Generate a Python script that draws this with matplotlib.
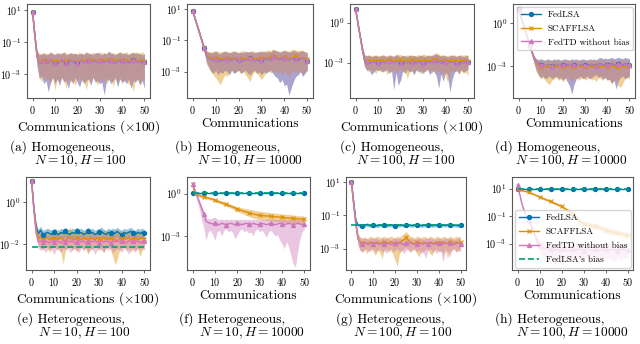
import numpy as np
import matplotlib
matplotlib.use("Agg")
import matplotlib.pyplot as plt
from matplotlib.ticker import FixedLocator, NullLocator, LogFormatterMathtext

plt.rcParams['font.family'] = 'serif'
plt.rcParams['font.serif'] = ['cmr10']
plt.rcParams['mathtext.fontset'] = 'cm'
plt.rcParams['axes.formatter.use_mathtext'] = True

# all series are log10 of the error, one value per 100 (or 1) communications
x = np.arange(51)

# ---------------- (a) homogeneous N=10 H=100
a_lsa = [0.9,
 -0.6,-1.9,-2.35,-2.3,-2.2,-2.25,-2.3,-2.15,-2.2,-2.3,
 -2.2,-2.25,-2.15,-2.2,-2.3,-2.2,-2.15,-2.25,-2.2,-2.3,
 -2.2,-2.2,-2.25,-2.15,-2.2,-2.3,-2.2,-2.15,-2.25,-2.2,
 -2.3,-2.25,-2.2,-2.15,-2.2,-2.25,-2.3,-2.2,-2.15,-2.2,
 -2.25,-2.2,-2.3,-2.2,-2.15,-2.2,-2.25,-2.2,-2.3,-2.25]
a_lsa_hi = [0.95,
 -0.4,-1.6,-1.8,-1.75,-1.7,-1.8,-1.75,-1.65,-1.75,-1.8,
 -1.7,-1.75,-1.7,-1.65,-1.8,-1.75,-1.7,-1.75,-1.7,-1.8,
 -1.75,-1.7,-1.8,-1.65,-1.7,-1.75,-1.8,-1.7,-1.65,-1.75,
 -1.8,-1.7,-1.75,-1.6,-1.7,-1.75,-1.8,-1.7,-1.65,-1.75,
 -1.7,-1.75,-1.8,-1.7,-1.65,-1.75,-1.7,-1.75,-1.8,-1.75]
a_lsa_lo = [0.85,
 -0.8,-2.5,-3.3,-3.1,-3.6,-3.4,-4.1,-3.5,-3.2,-3.6,
 -3.3,-3.7,-3.2,-3.5,-3.4,-3.9,-3.3,-3.6,-3.2,-3.5,
 -3.8,-3.3,-3.6,-3.4,-3.3,-3.7,-3.2,-3.5,-3.4,-3.6,
 -3.5,-4.3,-3.4,-3.3,-3.6,-3.4,-3.2,-3.8,-3.3,-3.5,
 -3.4,-3.6,-3.3,-3.9,-3.4,-3.5,-3.3,-3.7,-3.4,-3.9]
a_scaf = [0.9,
 -0.6,-1.85,-2.3,-2.2,-2.15,-2.2,-2.2,-2.1,-2.15,-2.2,
 -2.15,-2.2,-2.1,-2.15,-2.2,-2.1,-2.15,-2.2,-2.15,-2.25,
 -2.15,-2.1,-2.2,-2.15,-2.1,-2.2,-2.15,-2.1,-2.2,-2.15,
 -2.2,-2.1,-2.15,-2.05,-2.15,-2.2,-2.1,-2.15,-2.1,-2.15,
 -2.2,-2.1,-2.15,-2.2,-2.1,-2.15,-2.2,-2.1,-2.15,-2.2]
a_scaf_hi = [0.95,
 -0.4,-1.55,-1.7,-1.75,-1.65,-1.7,-1.75,-1.6,-1.7,-1.75,
 -1.65,-1.7,-1.75,-1.6,-1.7,-1.75,-1.65,-1.7,-1.75,-1.7,
 -1.65,-1.75,-1.7,-1.6,-1.75,-1.7,-1.65,-1.7,-1.75,-1.6,
 -1.7,-1.65,-1.75,-1.55,-1.7,-1.65,-1.75,-1.7,-1.6,-1.65,
 -1.7,-1.6,-1.75,-1.65,-1.7,-1.6,-1.65,-1.7,-1.6,-1.75]
a_scaf_lo = [0.85,
 -0.8,-2.4,-3.2,-3.5,-3.1,-3.4,-3.3,-3.6,-3.2,-4.0,
 -3.3,-3.5,-3.2,-3.4,-3.9,-3.3,-3.5,-3.4,-3.7,-3.3,
 -3.2,-3.5,-3.4,-4.0,-3.3,-3.6,-3.2,-3.4,-3.7,-3.3,
 -3.5,-3.2,-3.6,-3.4,-3.3,-3.8,-3.3,-3.5,-3.2,-3.6,
 -3.4,-3.3,-3.7,-3.5,-4.1,-3.3,-3.4,-3.6,-3.3,-3.5]
# homogeneous case: FedTD without bias coincides with FedLSA
a_td, a_td_hi, a_td_lo = a_lsa, a_lsa_hi, a_lsa_lo

# ---------------- (b) homogeneous N=10 H=10000
b_lsa = [0.9,
 0.42,-0.06,-0.54,-1.02,-1.5,-1.95,-2.1,-2.2,-2.25,-2.2,
 -2.3,-2.3,-2.25,-2.2,-2.2,-2.3,-2.25,-2.2,-2.15,-2.25,
 -2.2,-2.3,-2.25,-2.2,-2.15,-2.2,-2.3,-2.25,-2.2,-2.25,
 -2.2,-2.15,-2.2,-2.25,-2.05,-2.1,-2.15,-2.2,-2.1,-2.15,
 -2.2,-2.25,-2.15,-2.1,-2.2,-2.15,-2.2,-2.1,-2.2,-2.3]
b_lsa_hi = [0.95,
 0.5,0.05,-0.4,-0.9,-1.35,-1.7,-1.75,-1.8,-1.75,-1.7,
 -1.8,-1.85,-1.75,-1.7,-1.75,-1.8,-1.75,-1.7,-1.75,-1.8,
 -1.75,-1.8,-1.7,-1.75,-1.7,-1.75,-1.8,-1.75,-1.7,-1.75,
 -1.7,-1.75,-1.7,-1.75,-1.6,-1.65,-1.7,-1.75,-1.7,-1.65,
 -1.7,-1.75,-1.7,-1.65,-1.7,-1.75,-1.7,-1.65,-1.75,-1.8]
b_lsa_lo = [0.85,
 0.3,-0.2,-0.7,-1.15,-1.7,-2.4,-2.7,-3.0,-3.1,-2.9,
 -3.2,-3.0,-3.1,-2.9,-3.0,-3.2,-2.9,-3.1,-3.0,-2.9,
 -3.1,-3.0,-2.9,-3.1,-3.2,-3.0,-2.9,-3.1,-3.0,-3.2,
 -3.0,-3.1,-3.0,-2.9,-3.1,-3.3,-3.4,-3.7,-3.5,-3.9,
 -3.8,-4.5,-4.0,-3.6,-3.3,-3.2,-3.0,-3.3,-3.1,-2.9]
b_scaf = [0.9,
 0.42,-0.06,-0.54,-1.02,-1.5,-1.9,-2.05,-2.1,-2.15,-2.1,
 -2.15,-2.2,-2.1,-2.15,-2.1,-2.2,-2.15,-2.1,-2.15,-2.2,
 -2.1,-2.15,-2.2,-2.1,-2.15,-2.1,-2.2,-2.15,-2.1,-2.15,
 -2.1,-2.15,-2.1,-2.05,-2.0,-2.05,-2.1,-2.15,-2.1,-2.05,
 -2.1,-2.15,-2.1,-2.05,-2.0,-2.1,-2.15,-2.1,-2.15,-2.2]
b_scaf_hi = [0.95,
 0.5,0.05,-0.4,-0.9,-1.35,-1.65,-1.7,-1.75,-1.7,-1.65,
 -1.7,-1.75,-1.7,-1.65,-1.7,-1.75,-1.7,-1.65,-1.7,-1.75,
 -1.7,-1.65,-1.7,-1.75,-1.7,-1.65,-1.7,-1.75,-1.7,-1.65,
 -1.7,-1.65,-1.6,-1.65,-1.55,-1.6,-1.65,-1.7,-1.65,-1.6,
 -1.65,-1.7,-1.6,-1.55,-1.6,-1.65,-1.6,-1.65,-1.7,-1.75]
b_scaf_lo = [0.85,
 0.3,-0.2,-0.7,-1.15,-1.7,-2.5,-2.8,-3.0,-3.2,-3.4,
 -3.6,-3.85,-3.5,-3.2,-3.3,-3.0,-2.9,-3.1,-3.0,-2.9,
 -3.1,-3.0,-3.2,-3.4,-3.65,-3.2,-3.0,-3.1,-3.3,-3.5,
 -3.3,-3.0,-2.9,-3.1,-3.0,-2.9,-3.1,-3.0,-3.2,-3.0,
 -3.1,-3.3,-3.0,-2.9,-3.1,-3.0,-2.9,-3.2,-3.0,-2.9]
b_td, b_td_hi, b_td_lo = b_lsa, b_lsa_hi, b_lsa_lo

# ---------------- (c) homogeneous N=100 H=100
c_lsa = [1.0,
 0.0,-1.0,-2.0,-2.85,-2.95,-2.9,-3.0,-2.95,-2.9,-3.0,
 -2.95,-2.9,-3.0,-2.95,-2.9,-3.0,-2.95,-2.9,-2.95,-3.0,
 -2.9,-2.95,-3.0,-2.9,-2.95,-2.9,-3.0,-2.95,-2.9,-3.0,
 -2.95,-2.9,-3.0,-2.95,-2.9,-2.85,-2.95,-3.0,-2.9,-2.95,
 -3.0,-2.95,-2.9,-2.95,-3.0,-2.9,-2.95,-3.0,-2.9,-2.95]
c_lsa_hi = [1.05,
 0.1,-0.85,-1.8,-2.45,-2.5,-2.45,-2.55,-2.5,-2.45,-2.55,
 -2.5,-2.45,-2.5,-2.55,-2.45,-2.5,-2.55,-2.4,-2.5,-2.55,
 -2.45,-2.5,-2.55,-2.45,-2.5,-2.45,-2.55,-2.5,-2.45,-2.5,
 -2.55,-2.45,-2.5,-2.45,-2.4,-2.35,-2.45,-2.5,-2.45,-2.5,
 -2.55,-2.5,-2.45,-2.5,-2.55,-2.45,-2.5,-2.55,-2.5,-2.45]
c_lsa_lo = [0.95,
 -0.1,-1.2,-2.3,-3.3,-3.6,-3.5,-3.9,-3.7,-3.5,-3.6,
 -3.5,-3.7,-3.6,-3.5,-3.8,-3.6,-5.0,-3.7,-4.7,-4.3,
 -3.6,-3.8,-3.5,-3.7,-3.6,-3.9,-3.5,-3.7,-3.6,-3.8,
 -3.6,-3.5,-3.9,-3.6,-3.7,-4.0,-4.9,-3.8,-4.4,-3.7,
 -3.9,-5.2,-4.2,-3.7,-3.6,-3.8,-3.5,-3.7,-3.6,-3.5]
c_scaf = [1.0,
 0.0,-1.0,-2.0,-2.8,-2.85,-2.8,-2.9,-2.85,-2.8,-2.9,
 -2.85,-2.8,-2.85,-2.9,-2.8,-2.85,-2.9,-2.8,-2.85,-2.8,
 -2.85,-2.9,-2.8,-2.85,-2.8,-2.9,-2.85,-2.8,-2.85,-2.9,
 -2.8,-2.85,-2.8,-2.9,-2.75,-2.7,-2.8,-2.85,-2.8,-2.85,
 -2.9,-2.8,-2.85,-2.8,-2.9,-2.85,-2.8,-2.85,-2.8,-2.9]
c_scaf_hi = [1.05,
 0.1,-0.85,-1.8,-2.4,-2.45,-2.4,-2.5,-2.45,-2.4,-2.5,
 -2.45,-2.4,-2.45,-2.5,-2.4,-2.45,-2.5,-2.4,-2.35,-2.4,
 -2.45,-2.5,-2.4,-2.45,-2.4,-2.5,-2.45,-2.4,-2.45,-2.35,
 -2.4,-2.45,-2.4,-2.5,-2.3,-2.25,-2.35,-2.45,-2.4,-2.45,
 -2.5,-2.4,-2.45,-2.4,-2.5,-2.45,-2.4,-2.45,-2.4,-2.45]
c_scaf_lo = [0.95,
 -0.1,-1.2,-2.3,-3.3,-3.5,-3.7,-3.5,-3.6,-3.8,-3.5,
 -3.7,-3.6,-3.5,-3.9,-3.6,-3.7,-3.5,-3.8,-3.6,-3.5,
 -3.7,-3.6,-4.2,-3.7,-3.5,-3.8,-3.6,-3.5,-3.9,-3.6,
 -3.7,-3.5,-3.6,-3.8,-3.5,-3.7,-3.6,-3.9,-3.7,-4.0,
 -4.5,-3.8,-3.6,-3.7,-3.5,-3.9,-3.6,-3.8,-3.7,-4.0]
c_td, c_td_hi, c_td_lo = c_lsa, c_lsa_hi, c_lsa_lo

# ---------------- (d) homogeneous N=100 H=10000
d_lsa = [1.0,
 0.5,0.0,-0.5,-1.0,-1.5,-2.0,-2.45,-2.75,-2.9,-2.95,
 -2.9,-3.0,-2.95,-2.9,-3.0,-2.95,-2.9,-2.95,-3.0,-2.9,
 -2.95,-2.9,-3.0,-2.95,-2.9,-2.95,-3.0,-2.9,-2.95,-2.9,
 -3.0,-2.95,-2.9,-2.95,-3.0,-2.9,-2.85,-2.95,-2.9,-2.95,
 -2.9,-2.85,-2.95,-2.9,-2.85,-2.9,-2.95,-2.85,-2.9,-2.9]
d_lsa_hi = [1.05,
 0.55,0.05,-0.45,-0.95,-1.45,-1.9,-2.3,-2.5,-2.55,-2.5,
 -2.55,-2.6,-2.5,-2.55,-2.6,-2.5,-2.55,-2.5,-2.6,-2.55,
 -2.5,-2.55,-2.6,-2.5,-2.55,-2.5,-2.6,-2.55,-2.5,-2.55,
 -2.6,-2.5,-2.55,-2.5,-2.6,-2.45,-2.4,-2.5,-2.45,-2.5,
 -2.45,-2.4,-2.5,-2.45,-2.4,-2.45,-2.5,-2.4,-2.45,-2.5]
d_lsa_lo = [0.95,
 0.45,-0.05,-0.55,-1.05,-1.6,-2.2,-2.8,-3.3,-3.6,-3.8,
 -3.7,-3.9,-3.8,-3.7,-3.9,-3.8,-3.7,-3.9,-3.8,-4.0,
 -3.8,-4.1,-4.4,-4.95,-4.3,-3.9,-3.8,-3.7,-3.9,-3.8,
 -3.7,-3.9,-3.8,-3.7,-3.6,-3.8,-3.7,-3.9,-3.8,-4.0,
 -3.9,-4.2,-4.0,-4.6,-4.0,-3.8,-3.7,-3.9,-3.8,-3.7]
d_scaf = [1.0,
 0.5,0.0,-0.5,-1.0,-1.5,-2.0,-2.45,-2.8,-3.0,-3.05,
 -3.1,-3.05,-3.1,-3.0,-3.05,-3.1,-3.05,-3.0,-3.1,-3.05,
 -3.1,-3.05,-3.0,-3.1,-3.05,-3.1,-3.0,-3.05,-3.1,-3.05,
 -3.0,-3.05,-3.1,-3.05,-3.0,-3.05,-3.1,-3.0,-3.05,-3.1,
 -3.05,-3.0,-3.05,-3.1,-3.05,-3.0,-3.05,-3.1,-3.05,-3.0]
d_scaf_hi = [1.05,
 0.55,0.05,-0.45,-0.95,-1.45,-1.9,-2.3,-2.55,-2.6,-2.6,
 -2.65,-2.6,-2.55,-2.65,-2.6,-2.55,-2.6,-2.65,-2.6,-2.55,
 -2.6,-2.65,-2.55,-2.6,-2.65,-2.6,-2.55,-2.6,-2.65,-2.6,
 -2.55,-2.6,-2.65,-2.6,-2.55,-2.6,-2.65,-2.55,-2.6,-2.65,
 -2.6,-2.55,-2.6,-2.65,-2.6,-2.55,-2.6,-2.65,-2.6,-2.55]
d_scaf_lo = [0.95,
 0.45,-0.05,-0.55,-1.05,-1.6,-2.2,-2.8,-3.4,-3.7,-3.9,
 -3.8,-4.0,-4.2,-4.3,-4.0,-3.9,-3.8,-4.0,-3.9,-4.1,
 -3.9,-3.8,-4.0,-4.1,-3.9,-3.8,-4.0,-3.9,-3.8,-4.0,
 -3.9,-3.8,-4.0,-3.9,-4.1,-3.8,-3.9,-4.0,-3.8,-3.9,
 -4.0,-4.3,-4.0,-3.9,-4.4,-4.5,-4.2,-3.9,-3.8,-3.9]
d_td, d_td_hi, d_td_lo = d_lsa, d_lsa_hi, d_lsa_lo

# ---------------- (e) heterogeneous N=10 H=100
e_lsa = [1.0,
 -0.3,-1.2,-1.5,-1.35,-1.55,-1.5,-1.45,-1.5,-1.55,-1.45,
 -1.5,-1.55,-1.45,-1.5,-1.4,-1.5,-1.55,-1.45,-1.5,-1.4,
 -1.5,-1.45,-1.55,-1.5,-1.4,-1.5,-1.45,-1.55,-1.5,-1.45,
 -1.4,-1.5,-1.55,-1.45,-1.5,-1.45,-1.5,-1.4,-1.5,-1.55,
 -1.45,-1.5,-1.45,-1.4,-1.5,-1.55,-1.45,-1.5,-1.45,-1.5]
e_lsa_hi = [1.05,
 -0.2,-1.0,-1.3,-1.15,-1.35,-1.3,-1.25,-1.3,-1.35,-1.25,
 -1.3,-1.35,-1.25,-1.3,-1.2,-1.3,-1.35,-1.25,-1.3,-1.2,
 -1.3,-1.25,-1.35,-1.3,-1.2,-1.3,-1.25,-1.35,-1.3,-1.25,
 -1.2,-1.3,-1.35,-1.25,-1.3,-1.25,-1.3,-1.2,-1.3,-1.35,
 -1.25,-1.3,-1.25,-1.2,-1.3,-1.35,-1.25,-1.3,-1.25,-1.3]
e_lsa_lo = [0.95,
 -0.4,-1.4,-1.75,-1.6,-1.8,-1.75,-1.7,-1.75,-1.8,-1.7,
 -1.75,-1.8,-1.7,-1.75,-1.65,-1.75,-1.8,-1.7,-1.75,-1.65,
 -1.75,-1.7,-1.8,-1.75,-1.65,-1.75,-1.7,-1.8,-1.75,-1.7,
 -1.65,-1.75,-1.8,-1.7,-1.75,-1.7,-1.75,-1.65,-1.75,-1.8,
 -1.7,-1.75,-1.7,-1.65,-1.75,-1.8,-1.7,-1.75,-1.7,-1.75]
e_scaf = [1.0,
 -0.3,-1.3,-1.75,-1.7,-1.8,-1.75,-1.7,-1.8,-1.75,-1.7,
 -1.8,-1.75,-1.7,-1.8,-1.85,-1.7,-1.65,-1.75,-1.8,-1.7,
 -1.75,-1.8,-1.7,-1.75,-1.8,-1.7,-1.75,-1.8,-1.7,-1.75,
 -1.8,-1.7,-1.75,-1.8,-1.7,-1.75,-1.8,-1.85,-1.75,-1.7,
 -1.8,-1.75,-1.7,-1.8,-1.75,-1.7,-1.8,-1.75,-1.7,-1.75]
e_scaf_hi = [1.05,
 -0.2,-1.1,-1.45,-1.4,-1.5,-1.45,-1.35,-1.5,-1.4,-1.35,
 -1.5,-1.4,-1.45,-1.5,-1.4,-1.35,-1.2,-1.4,-1.5,-1.25,
 -1.4,-1.5,-1.35,-1.45,-1.5,-1.35,-1.4,-1.5,-1.35,-1.45,
 -1.5,-1.35,-1.4,-1.5,-1.35,-1.4,-1.3,-1.45,-1.4,-1.35,
 -1.5,-1.4,-1.35,-1.5,-1.4,-1.35,-1.45,-1.4,-1.35,-1.4]
e_scaf_lo = [0.95,
 -0.4,-1.5,-2.1,-2.2,-2.3,-2.1,-2.2,-2.4,-2.2,-2.1,
 -2.3,-2.2,-2.4,-2.95,-2.3,-2.2,-2.1,-2.3,-2.2,-2.4,
 -2.2,-2.1,-2.3,-2.2,-2.5,-2.2,-2.3,-2.1,-2.2,-2.3,
 -2.2,-2.4,-2.2,-2.1,-2.3,-2.6,-3.0,-2.7,-2.3,-2.2,
 -2.1,-2.3,-2.2,-2.4,-2.2,-2.3,-2.2,-2.6,-2.3,-2.2]
e_td = [1.0,
 -0.4,-1.5,-1.9,-1.85,-1.9,-1.85,-1.9,-1.95,-1.85,-1.9,
 -1.85,-1.9,-1.95,-1.85,-1.9,-1.85,-1.9,-1.85,-1.95,-1.9,
 -1.85,-1.9,-1.85,-1.95,-1.9,-1.85,-1.9,-1.85,-1.9,-1.95,
 -1.85,-1.9,-1.85,-1.9,-1.95,-1.85,-1.9,-1.85,-1.9,-1.85,
 -1.9,-1.95,-1.85,-1.9,-1.85,-1.9,-1.85,-1.95,-1.9,-1.85]
e_td_hi = [1.05,
 -0.3,-1.3,-1.6,-1.55,-1.6,-1.5,-1.6,-1.65,-1.55,-1.6,
 -1.55,-1.6,-1.65,-1.55,-1.6,-1.5,-1.6,-1.55,-1.65,-1.6,
 -1.55,-1.6,-1.55,-1.65,-1.6,-1.55,-1.6,-1.5,-1.6,-1.65,
 -1.55,-1.6,-1.55,-1.6,-1.65,-1.55,-1.6,-1.55,-1.6,-1.55,
 -1.6,-1.65,-1.55,-1.6,-1.55,-1.6,-1.55,-1.65,-1.6,-1.55]
e_td_lo = [0.95,
 -0.5,-1.7,-2.2,-2.3,-2.2,-2.4,-2.3,-2.2,-2.3,-2.5,
 -2.2,-2.3,-2.4,-2.2,-2.3,-2.2,-2.4,-2.3,-2.2,-2.3,
 -2.4,-2.2,-2.3,-2.2,-2.4,-2.3,-2.2,-2.5,-2.3,-2.2,
 -2.3,-2.4,-2.2,-2.3,-2.2,-2.4,-2.3,-2.2,-2.3,-2.4,
 -2.2,-2.3,-2.5,-2.2,-2.3,-2.4,-2.2,-2.3,-2.2,-2.3]
e_bias = -2.15

# ---------------- (f) heterogeneous N=10 H=10000
f_lsa = [0.05,
 0.05,0.05,0.05,0.05,0.05,0.05,0.05,0.05,0.05,0.05,
 0.05,0.05,0.05,0.05,0.05,0.05,0.05,0.05,0.05,0.05,
 0.05,0.05,0.05,0.05,0.05,0.05,0.05,0.05,0.05,0.05,
 0.05,0.05,0.05,0.05,0.05,0.05,0.05,0.05,0.05,0.05,
 0.05,0.05,0.05,0.05,0.05,0.05,0.05,0.05,0.05,0.05]
f_lsa_hi = f_lsa
f_lsa_lo = f_lsa
f_scaf = [0.7,
 -0.05,-0.08,-0.12,-0.18,-0.23,-0.26,-0.3,-0.35,-0.4,-0.47,
 -0.52,-0.58,-0.64,-0.7,-0.76,-0.82,-0.88,-0.95,-1.02,-1.1,
 -1.15,-1.2,-1.25,-1.3,-1.35,-1.4,-1.44,-1.48,-1.51,-1.53,
 -1.55,-1.57,-1.58,-1.59,-1.6,-1.62,-1.64,-1.65,-1.67,-1.68,
 -1.7,-1.72,-1.73,-1.74,-1.75,-1.77,-1.78,-1.79,-1.8,-1.82]
f_scaf_hi = [0.75,
 0.05,0.02,-0.02,-0.08,-0.13,-0.16,-0.2,-0.25,-0.3,-0.36,
 -0.41,-0.46,-0.52,-0.57,-0.63,-0.68,-0.74,-0.8,-0.86,-0.93,
 -0.97,-1.0,-1.03,-1.07,-1.1,-1.13,-1.16,-1.2,-1.22,-1.25,
 -1.27,-1.3,-1.31,-1.33,-1.35,-1.36,-1.38,-1.4,-1.42,-1.43,
 -1.45,-1.47,-1.48,-1.5,-1.51,-1.53,-1.55,-1.56,-1.57,-1.6]
f_scaf_lo = [0.65,
 -0.15,-0.18,-0.22,-0.28,-0.33,-0.36,-0.4,-0.45,-0.5,-0.58,
 -0.63,-0.7,-0.77,-0.83,-0.9,-0.96,-1.03,-1.1,-1.18,-1.27,
 -1.33,-1.4,-1.47,-1.53,-1.6,-1.67,-1.72,-1.77,-1.8,-1.83,
 -1.85,-1.87,-1.9,-1.91,-1.93,-1.95,-1.97,-1.98,-2.0,-2.02,
 -2.03,-2.05,-2.07,-2.08,-2.1,-2.12,-2.13,-2.15,-2.17,-2.1]
f_td = [0.7,
 0.27,-0.16,-0.58,-1.0,-1.42,-1.95,-2.05,-2.1,-2.15,-2.1,
 -2.15,-2.2,-2.1,-2.15,-2.2,-2.15,-2.1,-2.15,-2.2,-2.1,
 -2.15,-2.2,-2.15,-2.1,-2.15,-2.2,-2.1,-2.15,-2.2,-2.15,
 -2.1,-2.15,-2.2,-2.15,-2.1,-2.15,-2.2,-2.15,-2.1,-2.15,
 -2.2,-2.15,-2.1,-2.15,-2.2,-2.15,-2.1,-2.15,-2.2,-2.15]
f_td_hi = [0.75,
 0.35,-0.05,-0.45,-0.85,-1.25,-1.7,-1.75,-1.8,-1.7,-1.65,
 -1.8,-1.85,-1.8,-1.85,-1.8,-1.85,-1.8,-1.85,-1.8,-1.85,
 -1.8,-1.85,-1.8,-1.85,-1.8,-1.85,-1.8,-1.85,-1.8,-1.85,
 -1.8,-1.85,-1.8,-1.85,-1.8,-1.85,-1.8,-1.85,-1.8,-1.85,
 -1.8,-1.85,-1.8,-1.85,-1.8,-1.85,-1.8,-1.85,-1.8,-1.85]
f_td_lo = [0.65,
 0.1,-0.5,-1.1,-1.8,-2.4,-3.3,-2.7,-2.6,-2.9,-3.3,
 -2.7,-2.6,-3.0,-2.6,-2.5,-2.7,-2.6,-2.8,-3.2,-2.9,
 -2.6,-2.5,-2.7,-2.6,-2.8,-2.7,-3.0,-2.6,-2.5,-2.7,
 -2.6,-2.8,-3.1,-2.7,-2.6,-2.8,-3.0,-2.9,-3.3,-3.6,
 -3.9,-3.4,-3.8,-4.4,-5.0,-5.2,-4.1,-3.2,-2.7,-2.5]
f_bias = 0.05

# ---------------- (g) heterogeneous N=100 H=100
g_lsa = [1.0,
 -0.2,-1.3,-1.6,-1.58,-1.62,-1.6,-1.55,-1.6,-1.62,-1.58,
 -1.6,-1.63,-1.58,-1.6,-1.57,-1.62,-1.6,-1.58,-1.6,-1.62,
 -1.58,-1.6,-1.57,-1.62,-1.6,-1.58,-1.6,-1.62,-1.57,-1.6,
 -1.58,-1.62,-1.6,-1.58,-1.6,-1.57,-1.62,-1.6,-1.58,-1.6,
 -1.62,-1.58,-1.6,-1.57,-1.6,-1.62,-1.58,-1.6,-1.62,-1.6]
g_lsa_hi = [1.05,
 -0.1,-1.2,-1.5,-1.5,-1.52,-1.5,-1.45,-1.5,-1.52,-1.5,
 -1.5,-1.53,-1.5,-1.5,-1.47,-1.52,-1.5,-1.5,-1.5,-1.52,
 -1.5,-1.5,-1.47,-1.52,-1.5,-1.5,-1.5,-1.52,-1.47,-1.5,
 -1.5,-1.52,-1.5,-1.5,-1.5,-1.47,-1.52,-1.5,-1.5,-1.5,
 -1.52,-1.5,-1.5,-1.47,-1.5,-1.52,-1.5,-1.5,-1.52,-1.5]
g_lsa_lo = [0.95,
 -0.3,-1.4,-1.7,-1.68,-1.72,-1.7,-1.65,-1.7,-1.72,-1.68,
 -1.7,-1.73,-1.68,-1.7,-1.67,-1.72,-1.7,-1.68,-1.7,-1.72,
 -1.68,-1.7,-1.67,-1.72,-1.7,-1.68,-1.7,-1.72,-1.67,-1.7,
 -1.68,-1.72,-1.7,-1.68,-1.7,-1.67,-1.72,-1.7,-1.68,-1.7,
 -1.72,-1.68,-1.7,-1.67,-1.7,-1.72,-1.68,-1.7,-1.72,-1.7]
g_scaf = [1.0,
 -0.3,-1.5,-2.4,-2.6,-2.65,-2.6,-2.7,-2.65,-2.6,-2.7,
 -2.65,-2.6,-2.7,-2.65,-2.6,-2.7,-2.65,-2.6,-2.65,-2.7,
 -2.6,-2.65,-2.55,-2.45,-2.3,-2.5,-2.6,-2.65,-2.7,-2.6,
 -2.65,-2.7,-2.6,-2.65,-2.7,-2.6,-2.65,-2.7,-2.6,-2.65,
 -2.7,-2.6,-2.65,-2.7,-2.6,-2.65,-2.7,-2.6,-2.65,-2.6]
g_scaf_hi = [1.05,
 -0.2,-1.3,-2.1,-2.3,-2.35,-2.3,-2.4,-2.3,-2.25,-2.35,
 -2.3,-2.25,-2.35,-2.3,-2.25,-2.35,-2.3,-2.25,-2.3,-2.35,
 -2.25,-2.3,-2.2,-2.1,-1.95,-2.15,-2.25,-2.3,-2.35,-2.25,
 -2.3,-2.35,-2.25,-2.3,-2.35,-2.25,-2.3,-2.35,-2.25,-2.3,
 -2.35,-2.25,-2.3,-2.35,-2.25,-2.3,-2.35,-2.25,-2.3,-2.25]
g_scaf_lo = [0.95,
 -0.4,-1.7,-2.8,-3.1,-3.2,-3.0,-3.3,-3.1,-3.0,-3.2,
 -3.4,-3.1,-3.2,-3.6,-3.1,-3.0,-3.2,-3.1,-3.3,-3.7,
 -4.05,-3.3,-3.1,-3.0,-2.9,-3.1,-3.2,-3.0,-3.1,-3.3,
 -3.5,-3.1,-3.2,-3.0,-3.1,-3.3,-3.4,-3.1,-3.0,-3.2,
 -3.1,-3.3,-3.0,-3.6,-3.2,-3.1,-3.0,-3.2,-3.1,-3.0]
g_td = [1.0,
 -0.3,-1.5,-2.4,-2.65,-2.7,-2.65,-2.7,-2.75,-2.65,-2.7,
 -2.65,-2.7,-2.75,-2.65,-2.7,-2.65,-2.7,-2.75,-2.7,-2.65,
 -2.7,-2.65,-2.7,-2.75,-2.65,-2.7,-2.65,-2.7,-2.75,-2.7,
 -2.65,-2.7,-2.75,-2.65,-2.7,-2.65,-2.7,-2.75,-2.7,-2.65,
 -2.7,-2.75,-2.65,-2.7,-2.65,-2.7,-2.75,-2.7,-2.65,-2.7]
g_td_hi = [1.05,
 -0.2,-1.3,-2.1,-2.35,-2.4,-2.35,-2.4,-2.45,-2.35,-2.4,
 -2.35,-2.4,-2.45,-2.35,-2.4,-2.35,-2.4,-2.45,-2.4,-2.35,
 -2.4,-2.35,-2.4,-2.45,-2.35,-2.4,-2.35,-2.4,-2.45,-2.4,
 -2.35,-2.4,-2.45,-2.35,-2.4,-2.35,-2.4,-2.45,-2.4,-2.35,
 -2.4,-2.45,-2.35,-2.4,-2.35,-2.4,-2.45,-2.4,-2.35,-2.4]
g_td_lo = [0.95,
 -0.4,-1.7,-2.8,-3.1,-3.2,-3.1,-3.0,-3.2,-3.1,-3.0,
 -3.2,-3.1,-3.0,-3.2,-3.1,-3.3,-3.1,-3.0,-3.2,-3.1,
 -3.0,-3.2,-3.1,-3.3,-3.1,-3.0,-3.2,-3.1,-3.0,-3.2,
 -3.1,-3.3,-3.2,-3.6,-3.1,-3.0,-3.2,-3.1,-3.3,-3.1,
 -3.2,-3.8,-3.2,-3.1,-3.5,-3.1,-3.0,-3.2,-3.1,-3.2]
g_bias = -1.6

# ---------------- (h) heterogeneous N=100 H=10000
h_lsa = [0.95,
 0.95,0.95,0.95,0.95,0.95,0.95,0.95,0.95,0.95,0.95,
 0.95,0.95,0.95,0.95,0.95,0.95,0.95,0.95,0.95,0.95,
 0.95,0.95,0.95,0.95,0.95,0.95,0.95,0.95,0.95,0.95,
 0.95,0.95,0.95,0.95,0.95,0.95,0.95,0.95,0.95,0.95,
 0.95,0.95,0.95,0.95,0.95,0.95,0.95,0.95,0.95,0.95]
h_lsa_hi = h_lsa
h_lsa_lo = h_lsa
h_scaf = [0.95,
 0.9,0.85,0.82,0.79,0.76,0.69,0.62,0.55,0.48,0.4,
 0.34,0.27,0.2,0.14,0.08,0.0,-0.07,-0.14,-0.21,-0.28,
 -0.39,-0.5,-0.6,-0.71,-0.82,-0.98,-1.15,-1.3,-1.45,-1.55,
 -1.6,-1.64,-1.66,-1.68,-1.7,-1.75,-1.8,-1.88,-1.95,-2.03,
 -2.07,-2.1,-2.14,-2.17,-2.2,-2.24,-2.28,-2.32,-2.36,-2.39]
h_scaf_hi = [1.0,
 0.95,0.9,0.87,0.84,0.81,0.75,0.68,0.61,0.54,0.47,
 0.41,0.35,0.28,0.22,0.16,0.09,0.02,-0.05,-0.11,-0.17,
 -0.27,-0.37,-0.46,-0.56,-0.66,-0.8,-0.96,-1.1,-1.24,-1.34,
 -1.4,-1.44,-1.46,-1.48,-1.5,-1.55,-1.6,-1.67,-1.74,-1.82,
 -1.86,-1.89,-1.93,-1.96,-1.99,-2.03,-2.07,-2.11,-2.15,-2.18]
h_scaf_lo = [0.9,
 0.85,0.8,0.77,0.74,0.71,0.63,0.56,0.49,0.42,0.33,
 0.27,0.19,0.12,0.06,0.0,-0.09,-0.16,-0.23,-0.31,-0.39,
 -0.51,-0.63,-0.74,-0.86,-0.98,-1.16,-1.34,-1.5,-1.66,-1.76,
 -1.8,-1.84,-1.86,-1.88,-1.9,-1.95,-2.0,-2.09,-2.16,-2.24,
 -2.28,-2.31,-2.35,-2.38,-2.41,-2.45,-2.49,-2.53,-2.57,-2.6]
h_td = [1.3,
 0.6,-0.1,-0.6,-1.0,-1.3,-1.6,-2.0,-2.4,-2.8,-3.1,
 -3.3,-3.4,-3.35,-3.45,-3.4,-3.5,-3.4,-3.45,-3.5,-3.4,
 -3.45,-3.4,-3.5,-3.45,-3.4,-3.5,-3.4,-3.45,-3.4,-3.5,
 -3.45,-3.4,-3.5,-3.45,-3.4,-3.45,-3.5,-3.4,-3.45,-3.4,
 -3.5,-3.45,-3.4,-3.45,-3.5,-3.4,-3.45,-3.4,-3.5,-3.45]
h_td_hi = [1.35,
 0.7,0.0,-0.5,-0.9,-1.2,-1.45,-1.8,-2.2,-2.5,-2.8,
 -2.9,-3.0,-2.95,-3.0,-2.95,-3.05,-2.95,-3.0,-3.05,-2.95,
 -3.0,-2.95,-3.05,-3.0,-2.95,-3.05,-2.95,-3.0,-2.95,-3.05,
 -3.0,-2.95,-3.05,-3.0,-2.95,-3.0,-3.05,-2.95,-3.0,-2.95,
 -3.05,-3.0,-2.95,-3.0,-3.05,-2.95,-3.0,-2.95,-3.05,-3.0]
h_td_lo = [1.25,
 0.5,-0.2,-0.7,-1.1,-1.4,-1.8,-2.3,-2.8,-3.3,-3.6,
 -3.9,-4.1,-4.0,-4.3,-4.0,-4.2,-4.6,-4.1,-4.0,-4.2,
 -4.1,-4.0,-4.3,-4.1,-4.0,-4.4,-4.1,-4.0,-4.2,-4.1,
 -4.0,-4.2,-4.5,-4.1,-4.0,-4.2,-4.1,-4.0,-4.3,-4.1,
 -4.0,-4.2,-4.1,-4.4,-4.1,-4.0,-4.2,-4.1,-4.0,-4.1]
h_bias = 0.95

titles = ["(a) Homogeneous,", "(b) Homogeneous,", "(c) Homogeneous,", "(d) Homogeneous,",
          "(e) Heterogeneous,", "(f) Heterogeneous,", "(g) Heterogeneous,", "(h) Heterogeneous,"]
settings = [r"$N = 10, H = 100$", r"$N = 10, H = 10000$", r"$N = 100, H = 100$",
            r"$N = 100, H = 10000$", r"$N = 10, H = 100$", r"$N = 10, H = 10000$",
            r"$N = 100, H = 100$", r"$N = 100, H = 10000$"]
xlabels = [r"Communications ($\times 100$)", "Communications"] * 4

C_LSA, C_SCAF, C_BIAS, C_TD = '#0173b2', '#de8f05', '#029e73', '#cc78bc'

panels = [
    ((a_lsa, a_lsa_lo, a_lsa_hi), (a_scaf, a_scaf_lo, a_scaf_hi), (a_td, a_td_lo, a_td_hi), None),
    ((b_lsa, b_lsa_lo, b_lsa_hi), (b_scaf, b_scaf_lo, b_scaf_hi), (b_td, b_td_lo, b_td_hi), None),
    ((c_lsa, c_lsa_lo, c_lsa_hi), (c_scaf, c_scaf_lo, c_scaf_hi), (c_td, c_td_lo, c_td_hi), None),
    ((d_lsa, d_lsa_lo, d_lsa_hi), (d_scaf, d_scaf_lo, d_scaf_hi), (d_td, d_td_lo, d_td_hi), None),
    ((e_lsa, e_lsa_lo, e_lsa_hi), (e_scaf, e_scaf_lo, e_scaf_hi), (e_td, e_td_lo, e_td_hi), e_bias),
    ((f_lsa, f_lsa_lo, f_lsa_hi), (f_scaf, f_scaf_lo, f_scaf_hi), (f_td, f_td_lo, f_td_hi), f_bias),
    ((g_lsa, g_lsa_lo, g_lsa_hi), (g_scaf, g_scaf_lo, g_scaf_hi), (g_td, g_td_lo, g_td_hi), g_bias),
    ((h_lsa, h_lsa_lo, h_lsa_hi), (h_scaf, h_scaf_lo, h_scaf_hi), (h_td, h_td_lo, h_td_hi), h_bias),
]

# layout in pixels: left, right, top, bottom of each axes, y-limits (log10), y ticks (log10)
boxes = [(27, 150, 4.5, 98), (187, 313, 4.5, 98), (350, 473.5, 4.5, 98), (513, 635, 4.5, 98),
         (26, 150, 177, 270), (187, 310, 177, 270), (346, 466, 177, 270), (512, 633, 177, 270)]
ylims = [(-4.5, 1.34), (-4.69, 1.31), (-5.65, 1.36), (-5.25, 1.32),
         (-3.24, 1.19), (-5.41, 1.18), (-4.28, 1.3), (-4.91, 1.85)]
yticks = [[1, -1, -3], [1, -1, -3], [0, -3], [0, -3], [0, -2], [0, -3], [1, -1, -3], [1, -1, -3]]
cap1_x = [62, 228, 392, 548, 71, 232, 390, 550]
cap2_x = [80, 250, 406, 571, 84, 252, 403, 572]

W, H = 640, 344
fig = plt.figure(figsize=(W / 100, H / 100), dpi=100)

for i, (lsa, scaf, td, bias) in enumerate(panels):
    l, r, t, b = boxes[i]
    ax = fig.add_axes([l / W, (H - b) / H, (r - l) / W, (b - t) / H])
    ax.set_yscale('log')
    specs = [(lsa, C_LSA, 'o', 'FedLSA'), (scaf, C_SCAF, 'x', 'SCAFFLSA'),
             (td, C_TD, '^', 'FedTD without bias')]
    for (m, lo, hi), c, mk, lab in specs:
        ax.fill_between(x, 10.0 ** np.array(lo), 10.0 ** np.array(hi), color=c, alpha=0.42, lw=0)
    for (m, lo, hi), c, mk, lab in specs:
        ax.plot(x, 10.0 ** np.array(m), color=c, marker=mk, markevery=5, ms=3, mew=0.8,
                lw=1.0, label=lab)
    if bias is not None:
        ax.hlines(10.0 ** bias, x[0], x[-1], colors=C_BIAS, linestyles='--', lw=1.2,
                  label="FedLSA's bias")
    ax.set_xlim(-2.5, 52.5)
    ax.set_ylim(10.0 ** ylims[i][0], 10.0 ** ylims[i][1])
    ax.set_xticks([0, 10, 20, 30, 40, 50])
    ax.yaxis.set_major_locator(FixedLocator(10.0 ** np.array(yticks[i], dtype=float)))
    ax.yaxis.set_major_formatter(LogFormatterMathtext())
    ax.yaxis.set_minor_locator(NullLocator())
    ax.tick_params(labelsize=7.2, length=2.5, width=0.6, pad=1.5, color='0.3')
    for s in ax.spines.values():
        s.set_color('0.35')
        s.set_linewidth(0.8)
    ax.set_xlabel(xlabels[i], fontsize=9.6, labelpad=2)
    if i in (3, 7):
        ax.legend(loc='upper right' if i == 3 else 'lower right', fontsize=6.6,
                  handlelength=2.2, borderpad=0.4, labelspacing=0.6, borderaxespad=0.25,
                  handletextpad=0.7)
    ycap = 146.7 if i < 4 else 318.7
    fig.text(cap1_x[i] / W, 1 - ycap / H, titles[i], ha='center', va='center', fontsize=9.6)
    fig.text(cap2_x[i] / W, 1 - (ycap + 15) / H, settings[i], ha='center', va='center',
             fontsize=9.6)

fig.savefig("out.png", dpi=100)
